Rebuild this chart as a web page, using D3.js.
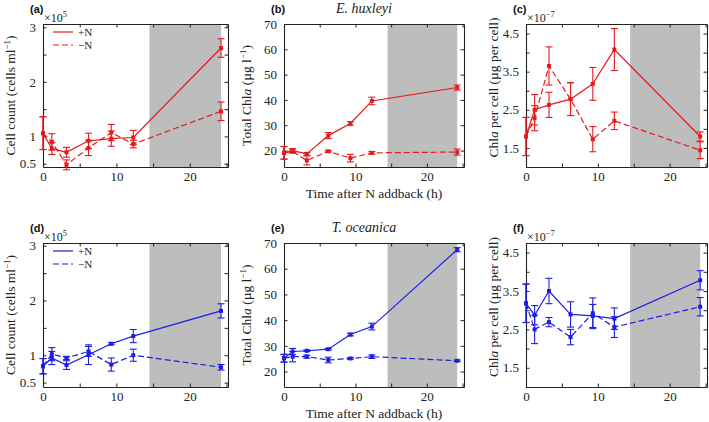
<!DOCTYPE html>
<html><head><meta charset="utf-8">
<script src="https://cdn.jsdelivr.net/npm/d3@7"></script>
<style>
body{margin:0;background:#fff;}
</style></head>
<body><svg id="c" width="709" height="422"></svg>
<script>
// ---- data ----
const times = [0, 1.2, 3.2, 6.2, 9.3, 12.3, 24.25];
const xTicks = [0, 5, 10, 15, 20, 25];
const xTickLabels = [0, 10, 20];
const darkPeriod = [14.5, 24.25];

const aPlus = [1.06, 0.78, 0.71, 0.92, 0.96, 0.98, 2.62];
const aPlusErr = [0.3, 0.11, 0.09, 0.14, 0.14, 0.13, 0.17];
const aMinus = [1.06, 0.90, 0.48, 0.79, 1.07, 0.86, 1.46];
const aMinusErr = [0.3, 0.15, 0.09, 0.14, 0.15, 0.07, 0.17];

const bPlus = [19.1, 20.0, 18.7, 25.9, 30.7, 39.6, 44.9];
const bPlusErr = [2.5, 0.8, 0.5, 1.2, 0.7, 1.5, 1.0];
const bMinus = [19.1, 19.6, 16.1, 19.7, 17.0, 19.1, 19.4];
const bMinusErr = [2.5, 0.6, 1.8, 0.3, 1.5, 0.5, 1.2];

const cPlus = [1.80, 2.50, 2.63, 2.78, 3.18, 4.08, 1.80];
const cPlusErr = [0.5, 0.4, 0.33, 0.43, 0.43, 0.55, 0.12];
const cMinus = [1.80, 2.28, 3.65, 2.78, 1.73, 2.21, 1.44];
const cMinusErr = [0.5, 0.33, 0.5, 0.43, 0.33, 0.23, 0.22];

const dPlus = [0.80, 0.95, 0.82, 1.01, 1.21, 1.35, 1.81];
const dPlusErr = [0.14, 0.12, 0.08, 0.18, 0.02, 0.12, 0.13];
const dMinus = [0.80, 1.02, 0.95, 1.07, 0.83, 1.00, 0.78];
const dMinusErr = [0.14, 0.12, 0.03, 0.09, 0.12, 0.11, 0.05];

const ePlus = [25.2, 27.8, 28.1, 28.7, 34.4, 37.5, 67.4];
const ePlusErr = [1.5, 1.2, 0.3, 0.3, 0.5, 1.3, 0.8];
const eMinus = [25.2, 25.8, 25.8, 24.5, 25.1, 25.8, 24.2];
const eMinusErr = [1.5, 2.0, 0.6, 1.1, 0.3, 0.7, 0.3];

const fPlus = [3.18, 2.87, 3.50, 2.89, 2.85, 2.78, 3.78];
const fPlusErr = [0.5, 0.25, 0.33, 0.33, 0.3, 0.28, 0.25];
const fMinus = [3.18, 2.50, 2.69, 2.30, 2.92, 2.56, 3.09];
const fMinusErr = [0.5, 0.37, 0.12, 0.2, 0.4, 0.27, 0.24];

const countTicks = [0.5, 1, 1.5, 2, 2.5, 3];
const countTickLabels = [0.5, 1, 2, 3];
const chlTicks = [20, 30, 40, 50, 60, 70];
const perCellTicks = [1, 1.5, 2, 2.5, 3, 3.5, 4, 4.5];
const perCellTickLabels = [1.5, 2.5, 3.5, 4.5];

const legendLabels = ["+N", "\u2212N"];
const red = "#e8191c", blue = "#1d1de6";

// ---- layout ----
const SERIF = "'Liberation Serif','Times New Roman','DejaVu Serif',serif";
const svg = d3.select("#c");
const cols = [{l:43, r:228}, {l:284, r:464}, {l:526, r:707}];
const rows = [{t:24, b:167}, {t:243, b:387}];

const panels = [
  {id:"(a)", c:0, r:0, color:red, plus:aPlus, pe:aPlusErr, minus:aMinus, me:aMinusErr, dom:[0.44,3.06], ticks:countTicks, labels:countTickLabels, kind:"count", legend:true, fmt:d=>d},
  {id:"(b)", c:1, r:0, color:red, plus:bPlus, pe:bPlusErr, minus:bMinus, me:bMinusErr, dom:[13.5,70], ticks:chlTicks, labels:chlTicks, kind:"chl", title:"E. huxleyi", xtitle:true, fmt:d=>d},
  {id:"(c)", c:2, r:0, color:red, plus:cPlus, pe:cPlusErr, minus:cMinus, me:cMinusErr, dom:[1.0,4.75], ticks:perCellTicks, labels:perCellTickLabels, kind:"percell", fmt:d=>d.toFixed(1)},
  {id:"(d)", c:0, r:1, color:blue, plus:dPlus, pe:dPlusErr, minus:dMinus, me:dMinusErr, dom:[0.42,3.05], ticks:countTicks, labels:countTickLabels, kind:"count", legend:true, fmt:d=>d},
  {id:"(e)", c:1, r:1, color:blue, plus:ePlus, pe:ePlusErr, minus:eMinus, me:eMinusErr, dom:[14,70], ticks:chlTicks, labels:chlTicks, kind:"chl", title:"T. oceanica", xtitle:true, fmt:d=>d},
  {id:"(f)", c:2, r:1, color:blue, plus:fPlus, pe:fPlusErr, minus:fMinus, me:fMinusErr, dom:[1.0,4.75], ticks:perCellTicks, labels:perCellTickLabels, kind:"percell", fmt:d=>d.toFixed(1)},
];

const tickLen = 3.5;

panels.forEach(p => {
  const L = cols[p.c].l, R = cols[p.c].r, T = rows[p.r].t, B = rows[p.r].b;
  const x = d3.scaleLinear().domain([0, 25.2]).range([L, R]);
  const y = d3.scaleLinear().domain(p.dom).range([B, T]);
  const g = svg.append("g");

  // dark period shading
  g.append("rect").attr("x", x(darkPeriod[0])).attr("y", T)
    .attr("width", x(darkPeriod[1]) - x(darkPeriod[0])).attr("height", B - T)
    .attr("fill", "#bdbdbd");

  // axes (inward ticks, mirrored)
  const ax = (axis, tr) => g.append("g").attr("transform", tr).call(axis)
      .attr("font-family", SERIF)
      .call(s => s.select(".domain").attr("stroke", "#222").attr("stroke-width", 1.1))
      .call(s => s.selectAll(".tick line").attr("stroke", "#222"));
  const fmtX = d => xTickLabels.includes(d) ? d : "";
  const fmtY = d => p.labels.includes(d) ? p.fmt(d) : "";
  ax(d3.axisBottom(x).tickValues(xTicks).tickSizeInner(-tickLen).tickSizeOuter(0).tickPadding(5).tickFormat(fmtX), `translate(0,${B})`)
    .selectAll("text").attr("font-size", 13).attr("fill", "#222");
  ax(d3.axisTop(x).tickValues(xTicks).tickSizeInner(-tickLen).tickSizeOuter(0).tickFormat(""), `translate(0,${T})`);
  ax(d3.axisLeft(y).tickValues(p.ticks).tickSizeInner(-tickLen).tickSizeOuter(0).tickPadding(7).tickFormat(fmtY), `translate(${L},0)`)
    .selectAll("text").attr("font-size", 13).attr("fill", "#222");
  ax(d3.axisRight(y).tickValues(p.ticks).tickSizeInner(-tickLen).tickSizeOuter(0).tickFormat(""), `translate(${R},0)`);

  // series
  const series = [
    {v:p.plus, e:p.pe, dash:null},
    {v:p.minus, e:p.me, dash:"6,3"}
  ];
  const line = d3.line().x(d => x(d[0])).y(d => y(d[1]));
  series.forEach(s => {
    const pts = times.map((t, i) => [t, s.v[i], s.e[i]]);
    g.append("path").datum(pts).attr("d", line).attr("fill", "none")
      .attr("stroke", p.color).attr("stroke-width", 1.2)
      .attr("stroke-dasharray", s.dash);
    const eb = g.append("g").attr("stroke", p.color).attr("stroke-width", 1.1);
    pts.forEach(d => {
      const xx = x(d[0]), y1 = y(d[1] + d[2]), y2 = y(d[1] - d[2]);
      eb.append("line").attr("x1", xx).attr("x2", xx).attr("y1", y1).attr("y2", y2);
      eb.append("line").attr("x1", xx - 3.5).attr("x2", xx + 3.5).attr("y1", y1).attr("y2", y1);
      eb.append("line").attr("x1", xx - 3.5).attr("x2", xx + 3.5).attr("y1", y2).attr("y2", y2);
    });
    g.append("g").selectAll("rect").data(pts).join("rect")
      .attr("x", d => x(d[0]) - 2).attr("y", d => y(d[1]) - 2)
      .attr("width", 4).attr("height", 4).attr("fill", p.color);
  });

  // panel label
  g.append("text").attr("x", L - 13).attr("y", T - 11)
    .attr("font-family", "'Liberation Sans',Arial,sans-serif").attr("font-weight", "bold")
    .attr("font-size", 11).attr("fill", "#111").text(p.id);

  // y-axis title
  const yt = g.append("text").attr("font-size", 13.5).attr("text-anchor", "middle")
    .attr("font-family", SERIF).attr("fill", "#222")
    .attr("transform", `translate(${L - (p.kind === "chl" ? 33 : 28)},${(T + B) / 2 - (p.kind === "percell" ? 8 : 0)}) rotate(-90)`);
  if (p.kind === "count") {
    yt.append("tspan").text("Cell count (cells ml");
    yt.append("tspan").attr("dy", -5).attr("font-size", 9).text("\u22121");
    yt.append("tspan").attr("dy", 5).text(")");
  } else if (p.kind === "chl") {
    yt.append("tspan").text("Total Chl");
    yt.append("tspan").attr("font-style", "italic").text("a");
    yt.append("tspan").text(" (\u00b5g l");
    yt.append("tspan").attr("dy", -5).attr("font-size", 9).text("\u22121");
    yt.append("tspan").attr("dy", 5).text(")");
  } else {
    yt.append("tspan").text("Chl");
    yt.append("tspan").attr("font-style", "italic").text("a");
    yt.append("tspan").text(" per cell (\u00b5g per cell)");
  }

  // exponent label
  if (p.kind !== "chl") {
    const ex = g.append("text").attr("x", L + 1).attr("y", T - 2).attr("font-size", 12)
      .attr("font-family", SERIF).attr("fill", "#222");
    ex.append("tspan").text("\u00d710");
    ex.append("tspan").attr("dy", -5).attr("font-size", 8.5).text(p.kind === "count" ? "5" : "\u22127");
  }

  // species title
  if (p.title) {
    g.append("text").attr("x", (L + R) / 2 - 10).attr("y", T - 11).attr("text-anchor", "middle")
      .attr("font-family", SERIF).attr("fill", "#222")
      .attr("font-size", 14).attr("font-style", "italic").text(p.title);
  }
  // x-axis title
  if (p.xtitle) {
    g.append("text").attr("x", (L + R) / 2).attr("y", B + 31).attr("text-anchor", "middle")
      .attr("font-family", SERIF).attr("fill", "#222")
      .attr("font-size", 13.5).text("Time after N addback (h)");
  }
  // legend
  if (p.legend) {
    legendLabels.forEach((lab, i) => {
      const ly = T + 8 + i * 13;
      g.append("line").attr("x1", L + 10).attr("x2", L + 30).attr("y1", ly).attr("y2", ly)
        .attr("stroke", p.color).attr("stroke-width", 1.2).attr("stroke-dasharray", i ? "6,3" : null);
      g.append("text").attr("x", L + 35).attr("y", ly + 4).attr("font-size", 11)
        .attr("font-family", SERIF).attr("fill", "#222").text(lab);
    });
  }
});
</script></body></html>
